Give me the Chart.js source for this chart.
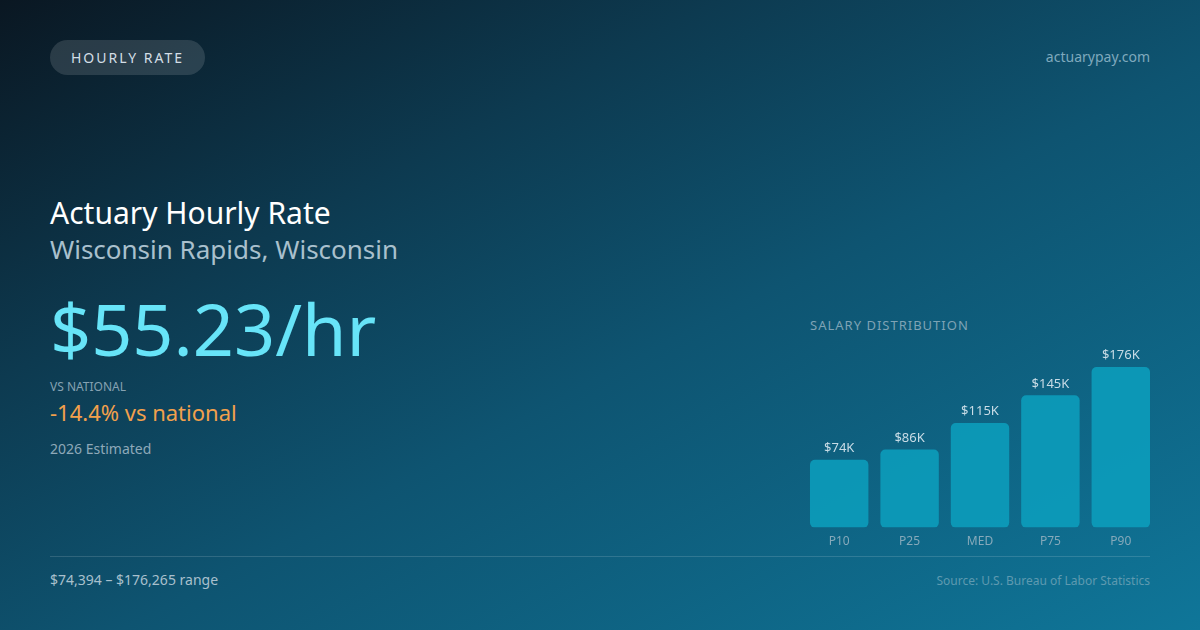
<!DOCTYPE html>
<html><head><meta charset="utf-8">
<script src="https://cdn.jsdelivr.net/npm/chart.js@4.4.0/dist/chart.umd.min.js"></script>
<style>
html,body{margin:0;padding:0;}
body{width:1200px;height:630px;overflow:hidden;position:relative;font-family:"Noto Sans",sans-serif;
background:linear-gradient(to bottom right,#0a1722 0%,#0d3a50 30%,#0e5471 55%,#0f7699 100%);}
.t{position:absolute;white-space:nowrap;line-height:1;}
#pill{position:absolute;left:50px;top:40px;width:155px;height:35px;border-radius:18px;background:rgba(255,255,255,0.13);
color:#d3dee6;font-size:14px;letter-spacing:2px;line-height:35px;text-align:center;}
#div{position:absolute;left:50px;top:556px;width:1100px;height:1px;background:rgba(255,255,255,0.14);}
#wrap{position:absolute;left:804px;top:342px;width:352px;height:214px;}
</style></head><body>
<div id="pill">HOURLY RATE</div>
<div class="t" style="right:50px;top:50px;font-size:14px;color:#7fa9bd;">actuarypay.com</div>
<div class="t" style="left:50px;top:198px;font-size:30px;color:#ffffff;">Actuary Hourly Rate</div>
<div class="t" style="left:50px;top:236px;font-size:26px;color:#a9c0cd;">Wisconsin Rapids, Wisconsin</div>
<div class="t" style="left:50px;top:292px;font-size:72px;color:#67e4f8;">$55.23/hr</div>
<div class="t" style="left:50px;top:381px;font-size:12px;color:#86a2b2;">VS NATIONAL</div>
<div class="t" style="left:50px;top:401px;font-size:22px;color:#f2a04c;">-14.4% vs national</div>
<div class="t" style="left:50px;top:442px;font-size:14px;color:#8ea9b9;">2026 Estimated</div>
<div class="t" style="left:810px;top:319px;font-size:13px;letter-spacing:1px;color:#7ea3b5;">SALARY DISTRIBUTION</div>
<div id="div"></div>
<div class="t" style="left:50px;top:573px;font-size:14px;color:#a9c0cd;">$74,394 – $176,265 range</div>
<div class="t" style="right:50px;top:575px;font-size:12px;color:#5e9ab0;">Source: U.S. Bureau of Labor Statistics</div>
<div id="wrap"><canvas id="c"></canvas></div>
<script>
const categories = ["P10","P25","MED","P75","P90"];
const salaries = [74394, 85800, 114878, 145200, 176265];
const valueLabels = ["$74K","$86K","$115K","$145K","$176K"];

const labelPlugin = {
  id:'valLabels',
  afterDatasetsDraw(chart){
    const ctx = chart.ctx;
    const meta = chart.getDatasetMeta(0);
    ctx.save();
    ctx.font = '13px "Noto Sans"';
    ctx.fillStyle = '#c9dce6';
    ctx.textAlign = 'center';
    ctx.textBaseline = 'bottom';
    meta.data.forEach((bar,i)=>{
      ctx.fillText(valueLabels[i], bar.x, bar.y - 5);
    });
    ctx.restore();
  }
};

new Chart(document.getElementById('c'), {
  type:'bar',
  data:{labels:categories, datasets:[{data:salaries, backgroundColor:'rgba(12,160,190,0.85)', borderRadius:5, borderSkipped:false,
    categoryPercentage:1, barPercentage:0.83}]},
  options:{
    responsive:true, maintainAspectRatio:false, animation:false,
    layout:{padding:0},
    plugins:{legend:{display:false}, tooltip:{enabled:false}},
    scales:{
      y:{display:false, min:0, max:203800},
      x:{grid:{display:false, drawTicks:false}, border:{display:false},
         ticks:{color:'#86a9ba', font:{family:'Noto Sans', size:12}, padding:7}}
    }
  },
  plugins:[labelPlugin]
});
</script>
</body></html>
